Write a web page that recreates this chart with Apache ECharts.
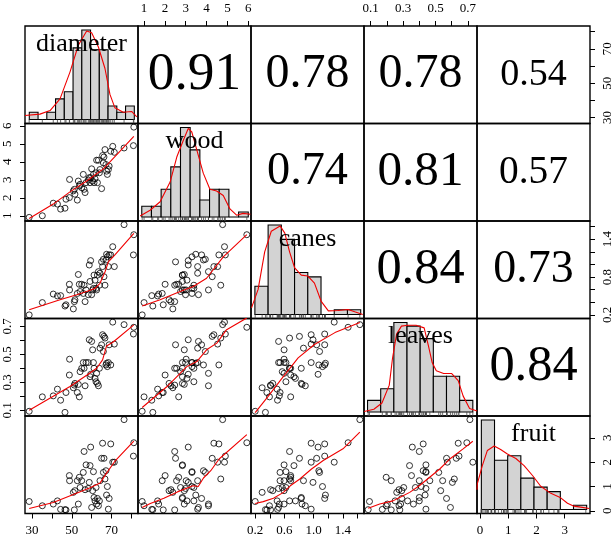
<!DOCTYPE html>
<html><head><meta charset="utf-8">
<script src="https://cdn.jsdelivr.net/npm/echarts@6/dist/echarts.min.js"></script>
<style>html,body{margin:0;padding:0;background:#fff}#c{width:615px;height:538px}</style>
</head><body><div id="c"></div>
<script>
// ---------------- data ----------------
const varNames = ['diameter', 'wood', 'canes', 'leaves', 'fruit'];

const diameter = [28.6, 35.2, 40.7, 42.8, 44.4, 46.6, 47.1, 48.8, 48.9, 50.8, 51.3, 51.6, 52.8, 53.3, 53.8, 54.2, 55.0, 55.8, 56.2, 56.7, 57.2, 58.3, 58.8, 59.2, 59.5, 60.0, 60.5, 60.9, 61.2, 61.7, 62.2, 62.5, 62.9, 63.4, 63.9, 64.2, 65.0, 65.5, 65.9, 66.2, 66.7, 67.2, 67.5, 67.9, 68.4, 68.8, 69.6, 70.6, 71.4, 76.3, 81.2, 81.0];
const wood = [0.91, 1.0, 1.70, 1.65, 1.37, 1.42, 1.92, 2.01, 3.02, 2.38, 2.47, 2.20, 1.87, 2.93, 2.66, 2.75, 2.56, 3.30, 2.47, 2.29, 2.84, 2.99, 3.12, 2.84, 3.12, 3.61, 2.93, 3.30, 2.84, 3.06, 3.39, 4.09, 2.84, 4.09, 3.39, 3.57, 2.51, 4.35, 3.94, 4.27, 4.68, 3.85, 3.48, 3.30, 3.57, 3.76, 4.59, 4.86, 4.53, 4.77, 5.93, 4.90];
const canes = [0.20, 0.395, 0.53, 0.50, 0.505, 0.34, 0.36, 0.685, 0.595, 0.295, 0.41, 0.44, 0.54, 0.84, 0.685, 0.57, 0.685, 0.54, 0.67, 0.41, 0.595, 0.52, 0.99, 0.73, 1.06, 0.52, 0.595, 0.62, 0.83, 0.75, 0.62, 0.595, 0.83, 0.885, 0.67, 0.86, 1.04, 0.965, 1.08, 0.805, 0.67, 1.07, 1.16, 1.12, 0.965, 1.15, 1.15, 1.28, 0.965, 1.63, 1.47, 1.15];
const leaves = [0.093, 0.196, 0.203, 0.251, 0.172, 0.085, 0.227, 0.352, 0.465, 0.261, 0.28, 0.292, 0.227, 0.285, 0.196, 0.376, 0.40, 0.441, 0.40, 0.275, 0.441, 0.441, 0.604, 0.34, 0.357, 0.592, 0.532, 0.441, 0.40, 0.328, 0.304, 0.364, 0.292, 0.275, 0.40, 0.544, 0.568, 0.64, 0.52, 0.628, 0.616, 0.424, 0.436, 0.412, 0.441, 0.568, 0.424, 0.73, 0.573, 0.712, 0.693, 0.645];
const fruit = [0.385, 0.21, 0.28, 0.41, 0.06, 0.05, 0.04, 1.45, 1.24, 0.76, 0.04, 0.83, 1.24, 0.28, 1.38, 0.96, 1.24, 1.58, 2.44, 0.87, 1.89, 0.92, 1.17, 1.86, 2.62, 0.14, 0.83, 1.61, 0.55, 0.41, 0.96, 0.28, 0.51, 0.21, 0.41, 1.24, 2.16, 2.78, 1.58, 2.16, 1.31, 1.65, 0.65, 1.0, 0.07, 0.51, 2.75, 2.0, 2.0, 3.75, 2.8, 2.25];

// correlations (upper panels)
const corrRow = [0, 0, 0, 0, 1, 1, 1, 2, 2, 3];
const corrCol = [1, 2, 3, 4, 2, 3, 4, 3, 4, 4];
const corrValue = [0.91, 0.78, 0.78, 0.54, 0.74, 0.81, 0.57, 0.84, 0.73, 0.84];

// histograms (relative bar heights, equal-width bins between from/to)
const histFrom = [28.66, 0.89, 0.196, 0.081, 0.046];
const histTo = [81.45, 6.0, 1.642, 0.73, 3.78];
const histDiameter = [0.08, 0, 0.08, 0.23, 0.31, 0.80, 1, 0.78, 0.78, 0.15, 0.08, 0.15];
const histWood = [0.12, 0.12, 0.31, 0.56, 1, 0.75, 0.19, 0.31, 0.31, 0, 0.056];
const histCanes = [0.316, 1, 0.84, 0.47, 0.42, 0, 0.053, 0.053];
const histLeaves = [0.13, 0.26, 1, 0.96, 0.82, 0.4, 0.4, 0.13];
const histFruit = [1, 0.55, 0.6, 0.35, 0.25, 0.2, 0, 0.048];

// density curves (scaled)
const densityDiameter = [[26.5,0.044],[34.0,0.06],[39.1,0.10],[44.1,0.23],[49.1,0.53],[53.3,0.83],[57.5,0.99],[60.0,0.97],[63.4,0.81],[66.7,0.57],[69.2,0.28],[71.7,0.13],[75.9,0.08],[80.1,0.09],[82.7,0.03]];
const densityWood = [[0.81,0.01],[1.29,0.075],[1.77,0.17],[2.25,0.39],[2.57,0.67],[2.89,0.86],[3.12,0.99],[3.29,0.95],[3.53,0.75],[3.84,0.49],[4.16,0.31],[4.48,0.29],[4.8,0.24],[5.12,0.09],[5.44,0.02],[5.75,0.04],[6.1,0.03]];
const densityCanes = [[0.15,0.074],[0.24,0.28],[0.33,0.70],[0.42,0.93],[0.54,0.99],[0.605,0.91],[0.67,0.70],[0.74,0.52],[0.83,0.44],[0.92,0.43],[1.01,0.35],[1.10,0.15],[1.20,0.04],[1.33,0.044],[1.47,0.056],[1.56,0.03],[1.67,0.0]];
const densityLeaves = [[0.06,0.005],[0.12,0.03],[0.17,0.1],[0.215,0.3],[0.235,0.6],[0.26,0.87],[0.29,0.96],[0.33,0.97],[0.38,0.97],[0.43,0.94],[0.455,0.75],[0.48,0.55],[0.505,0.46],[0.55,0.43],[0.6,0.43],[0.64,0.35],[0.67,0.18],[0.71,0.04],[0.756,0.01]];
const densityFruit = [[-0.108,0.22],[-0.095,0.29],[0.08,0.49],[0.26,0.66],[0.50,0.71],[0.73,0.67],[0.97,0.62],[1.27,0.57],[1.56,0.49],[1.86,0.38],[2.15,0.26],[2.51,0.18],[2.86,0.13],[3.10,0.07],[3.33,0.037],[3.57,0.026],[3.87,0.01]];

// smoothed (loess) lines for lower panels: [x, y]
const loessWoodDiameter = [[28.6,0.85],[40.7,1.65],[49.1,2.33],[57.5,2.93],[65.9,3.61],[74.3,4.59],[81.2,5.42]];
const loessCanesDiameter = [[28.6,0.28],[35.2,0.35],[44.1,0.44],[52.5,0.52],[57.5,0.57],[61.7,0.62],[64.2,0.70],[66.7,0.88],[68.4,1.04],[71.7,1.15],[81.2,1.49]];
const loessLeavesDiameter = [[28.6,0.10],[40.7,0.20],[49.1,0.27],[57.5,0.35],[62.5,0.40],[65.5,0.46],[67.5,0.56],[71,0.59],[81.2,0.71]];
const loessFruitDiameter = [[28.6,0.10],[40.7,0.34],[50.8,0.67],[59.2,0.95],[64.2,1.14],[67.5,1.55],[71.7,2.04],[81.2,2.87]];
const loessCanesWood = [[0.91,0.34],[1.77,0.44],[2.73,0.57],[3.36,0.65],[4.0,0.78],[4.80,1.12],[5.93,1.47]];
const loessLeavesWood = [[0.91,0.12],[2.09,0.268],[3.05,0.412],[3.53,0.448],[4.0,0.532],[4.49,0.58],[4.96,0.676],[5.93,0.76]];
const loessFruitWood = [[0.91,0.14],[1.3,0.3],[1.95,0.52],[2.6,0.78],[3.35,1.03],[3.6,1.0],[3.85,1.35],[4.2,1.65],[4.6,2.13],[5.93,3.13]];
const loessLeavesCanes = [[0.2,0.083],[0.377,0.199],[0.56,0.325],[0.787,0.475],[1.01,0.57],[1.29,0.655],[1.63,0.727]];
const loessFruitCanes = [[0.2,0.30],[0.31,0.38],[0.45,0.52],[0.586,0.76],[0.68,1.03],[0.81,1.31],[0.97,1.72],[1.13,2.07],[1.40,2.55],[1.63,3.24]];
const loessFruitLeaves = [[0.085,0.11],[0.156,0.28],[0.238,0.41],[0.279,0.55],[0.341,0.76],[0.40,1.03],[0.464,1.38],[0.526,1.72],[0.588,2.13],[0.67,2.55],[0.73,2.86]];

// axis ticks and labels
const tickValues = [[30,40,50,60,70,80],[1,2,3,4,5,6],[0.2,0.4,0.6,0.8,1.0,1.2,1.4,1.6],[0.1,0.2,0.3,0.4,0.5,0.6,0.7],[0,1,2,3]];
const hLabels = [[30,50,70],[1,2,3,4,5,6],[0.2,0.6,1.0,1.4],[0.1,0.3,0.5,0.7],[0,1,2,3]];
const vLabels = [[30,50,70],[1,2,3,4,5,6],[0.2,0.8,1.4],[0.1,0.3,0.5,0.7],[0,1,2,3]];
const labelDecimals = [0, 0, 1, 1, 0];

// ---------------- layout ----------------
const X0 = 25, Y0 = 26, PW = 113, PH = 97.5, N = 5;
const FONT = '"Liberation Serif", "Times New Roman", serif';
const RED = '#f00000';
const vars = [diameter, wood, canes, leaves, fruit];
const hists = [histDiameter, histWood, histCanes, histLeaves, histFruit];
const densities = [densityDiameter, densityWood, densityCanes, densityLeaves, densityFruit];
const loess = {
  '1,0': loessWoodDiameter, '2,0': loessCanesDiameter, '3,0': loessLeavesDiameter, '4,0': loessFruitDiameter,
  '2,1': loessCanesWood, '3,1': loessLeavesWood, '4,1': loessFruitWood,
  '3,2': loessLeavesCanes, '4,2': loessFruitCanes, '4,3': loessFruitLeaves
};
const ext = vars.map(v => { const mn = Math.min(...v), mx = Math.max(...v), r = mx - mn; return [mn - 0.04 * r, mx + 0.04 * r]; });
const DIAG = [-0.045, 1.045];

const grid = [], xAxis = [], yAxis = [], series = [], graphic = [];

function axis(gridIndex, range, position, varIdx, vertical) {
  const show = varIdx !== null;
  return {
    type: 'value', gridIndex, min: range[0], max: range[1], position,
    axisLine: { show: false, onZero: false },
    splitLine: { show: false },
    axisTick: show ? { show: true, inside: false, length: 5, customValues: tickValues[varIdx], lineStyle: { color: '#000', width: 1 } } : { show: false },
    axisLabel: show ? {
      show: true, customValues: vertical ? vLabels[varIdx] : hLabels[varIdx], margin: 11,
      rotate: vertical ? 90 : 0, color: '#000', fontFamily: FONT, fontSize: 13,
      formatter: v => Number(v).toFixed(labelDecimals[varIdx])
    } : { show: false }
  };
}

for (let i = 0; i < N; i++) {
  for (let j = 0; j < N; j++) {
    const k = i * N + j;
    grid.push({ left: X0 + j * PW, top: Y0 + i * PH, width: PW, height: PH, show: true, borderColor: '#000', borderWidth: 1.4, backgroundColor: 'transparent' });
    let xVar = null, xPos = 'bottom';
    if (i === 0 && j % 2 === 1) { xVar = j; xPos = 'top'; }
    if (i === N - 1 && j % 2 === 0) { xVar = j; xPos = 'bottom'; }
    xAxis.push(axis(k, ext[j], xPos, xVar, false));
    let yVar = null, yPos = 'left';
    if (j === 0 && i % 2 === 1) { yVar = i; yPos = 'left'; }
    if (j === N - 1 && i % 2 === 0 && i !== j) { yVar = i; yPos = 'right'; }
    yAxis.push(axis(k, i === j ? DIAG : ext[i], yPos, yVar, true));

    if (i > j) {
      series.push({
        type: 'scatter', xAxisIndex: k, yAxisIndex: k, silent: true,
        symbol: 'circle', symbolSize: 6,
        itemStyle: { color: 'rgba(0,0,0,0)', borderColor: '#000', borderWidth: 1 },
        data: vars[j].map((v, o) => [v, vars[i][o]])
      });
      series.push({
        type: 'line', xAxisIndex: k, yAxisIndex: k, silent: true, showSymbol: false, clip: true,
        lineStyle: { color: RED, width: 1.1 }, data: loess[i + ',' + j]
      });
    } else if (i === j) {
      const h = hists[i], w = (histTo[i] - histFrom[i]) / h.length;
      series.push({
        type: 'custom', xAxisIndex: k, yAxisIndex: k, silent: true, clip: true,
        data: h.map((v, b) => [histFrom[i] + b * w, histFrom[i] + (b + 1) * w, v]),
        encode: { x: [0, 1], y: 2 },
        renderItem: (params, api) => {
          const p0 = api.coord([api.value(0), 0]);
          const p1 = api.coord([api.value(1), api.value(2)]);
          return { type: 'rect', shape: { x: p0[0], y: p1[1], width: p1[0] - p0[0], height: p0[1] - p1[1] },
            style: { fill: '#d3d3d3', stroke: '#000', lineWidth: 1.1 } };
        }
      });
      series.push({
        type: 'custom', xAxisIndex: k, yAxisIndex: k, silent: true, clip: true,
        data: vars[i].map(v => [v]),
        encode: { x: 0 },
        renderItem: (params, api) => {
          const p = api.coord([api.value(0), DIAG[0]]);
          return { type: 'line', shape: { x1: p[0], y1: p[1], x2: p[0], y2: p[1] - 4 }, style: { stroke: '#444', lineWidth: 0.8 } };
        }
      });
      series.push({
        type: 'line', xAxisIndex: k, yAxisIndex: k, silent: true, showSymbol: false, clip: true,
        lineStyle: { color: RED, width: 1.1 }, data: densities[i]
      });
      graphic.push({
        type: 'text', x: X0 + j * PW + PW / 2, y: Y0 + i * PH + 18, silent: true, z: 100,
        style: { text: varNames[i], font: '26px ' + FONT, fill: '#000', align: 'center', verticalAlign: 'middle', textAlign: 'center', textVerticalAlign: 'middle' }
      });
    }
  }
}
// extra right axis on the last diagonal panel (fruit scale)
yAxis.push(axis(N * N - 1, ext[N - 1], 'right', N - 1, true));

corrValue.forEach((r, c) => {
  const i = corrRow[c], j = corrCol[c];
  graphic.push({
    type: 'text', x: X0 + j * PW + PW / 2, y: Y0 + i * PH + PH / 2, silent: true,
    style: { text: r.toFixed(2), font: (16 + 41 * Math.abs(r)).toFixed(1) + 'px ' + FONT, fill: '#000', align: 'center', verticalAlign: 'middle', textAlign: 'center', textVerticalAlign: 'middle' }
  });
});

const chart = echarts.init(document.getElementById('c'), null, { renderer: 'canvas' });
chart.setOption({ animation: false, backgroundColor: '#fff', grid, xAxis, yAxis, series, graphic });
</script>
</body></html>
